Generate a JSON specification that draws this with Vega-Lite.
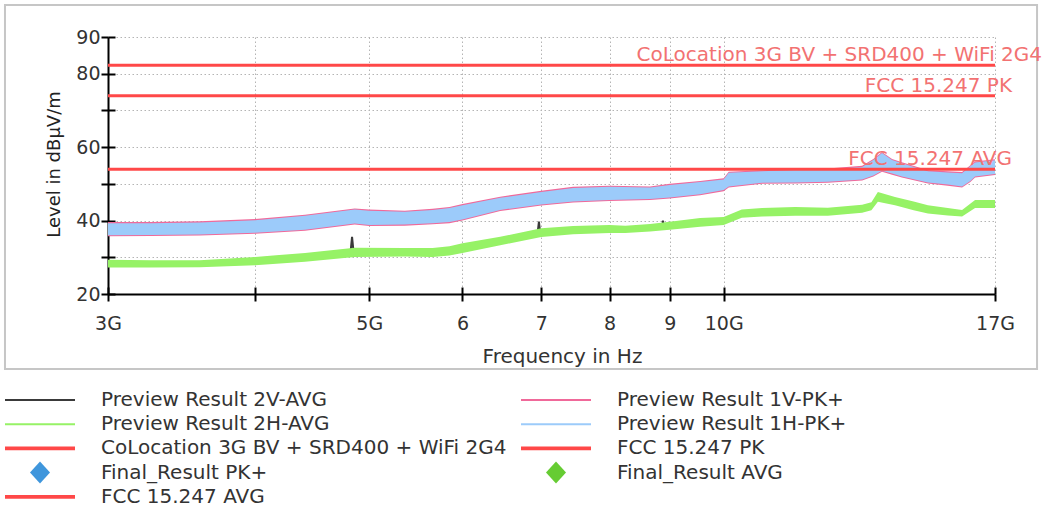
{
  "$schema": "https://vega.github.io/schema/vega-lite/v6.json",
  "width": 887,
  "height": 257,
  "autosize": {"type": "none"},
  "padding": {"left": 108, "top": 37, "right": 50, "bottom": 219},
  "background": "white",
  "config": {
    "view": {"stroke": null},
    "font": "DejaVu Sans",
    "axis": {"labelFont": "DejaVu Sans", "titleFont": "DejaVu Sans"},
    "text": {"font": "DejaVu Sans"}
  },
  "resolve": {"axis": {"x": "independent", "y": "independent"}},
  "datasets": {
    "frame": [{"part": "frame"}],
    "limits": [
      {"series": "CoLocation 3G BV + SRD400 + WiFi 2G4", "level": 82.3},
      {"series": "FCC 15.247 PK", "level": 74},
      {"series": "FCC 15.247 AVG", "level": 54}
    ],
    "pk1v": [
      {"f": 3.0, "lo": 35.7, "hi": 39.6}, {"f": 3.26, "lo": 35.8, "hi": 39.6}, {"f": 3.59, "lo": 35.9, "hi": 39.8},
      {"f": 4.0, "lo": 36.4, "hi": 40.4}, {"f": 4.41, "lo": 37.2, "hi": 41.6}, {"f": 4.86, "lo": 38.9, "hi": 43.3},
      {"f": 5.0, "lo": 38.5, "hi": 43.0}, {"f": 5.36, "lo": 38.6, "hi": 42.7}, {"f": 5.66, "lo": 39.0, "hi": 43.2},
      {"f": 5.85, "lo": 39.3, "hi": 43.7}, {"f": 6.0, "lo": 40.0, "hi": 44.5}, {"f": 6.46, "lo": 42.6, "hi": 46.5},
      {"f": 7.0, "lo": 44.1, "hi": 48.1}, {"f": 7.45, "lo": 44.9, "hi": 49.2}, {"f": 8.0, "lo": 45.3, "hi": 49.5},
      {"f": 8.66, "lo": 45.6, "hi": 49.3}, {"f": 9.0, "lo": 46.0, "hi": 50.0}, {"f": 9.55, "lo": 46.9, "hi": 50.8},
      {"f": 10.0, "lo": 48.0, "hi": 51.5}, {"f": 10.1, "lo": 49.0, "hi": 53.3}, {"f": 10.78, "lo": 50.0, "hi": 53.7},
      {"f": 11.5, "lo": 50.1, "hi": 54.1}, {"f": 12.26, "lo": 50.3, "hi": 54.2}, {"f": 13.11, "lo": 50.9, "hi": 54.9},
      {"f": 13.4, "lo": 52.0, "hi": 56.8}, {"f": 13.63, "lo": 53.3, "hi": 58.7}, {"f": 13.9, "lo": 52.5, "hi": 56.8},
      {"f": 14.17, "lo": 51.7, "hi": 55.9}, {"f": 14.91, "lo": 50.1, "hi": 53.7}, {"f": 15.5, "lo": 49.5, "hi": 53.4},
      {"f": 15.94, "lo": 49.0, "hi": 53.2}, {"f": 16.2, "lo": 50.5, "hi": 55.1}, {"f": 16.35, "lo": 51.7, "hi": 56.1},
      {"f": 17.0, "lo": 52.4, "hi": 56.7}
    ],
    "pk1h": [
      {"f": 3.0, "lo": 36.0, "hi": 39.3}, {"f": 3.26, "lo": 36.1, "hi": 39.3}, {"f": 3.59, "lo": 36.2, "hi": 39.5},
      {"f": 4.0, "lo": 36.7, "hi": 40.1}, {"f": 4.41, "lo": 37.5, "hi": 41.3}, {"f": 4.86, "lo": 39.2, "hi": 43.0},
      {"f": 5.0, "lo": 38.8, "hi": 42.7}, {"f": 5.36, "lo": 38.9, "hi": 42.4}, {"f": 5.66, "lo": 39.3, "hi": 42.9},
      {"f": 5.85, "lo": 39.6, "hi": 43.4}, {"f": 6.0, "lo": 40.3, "hi": 44.2}, {"f": 6.46, "lo": 42.9, "hi": 46.2},
      {"f": 7.0, "lo": 44.4, "hi": 47.8}, {"f": 7.45, "lo": 45.2, "hi": 48.9}, {"f": 8.0, "lo": 45.6, "hi": 49.2},
      {"f": 8.66, "lo": 45.9, "hi": 49.0}, {"f": 9.0, "lo": 46.3, "hi": 49.7}, {"f": 9.55, "lo": 47.2, "hi": 50.5},
      {"f": 10.0, "lo": 48.3, "hi": 51.2}, {"f": 10.1, "lo": 49.3, "hi": 53.0}, {"f": 10.78, "lo": 50.3, "hi": 53.4},
      {"f": 11.5, "lo": 50.4, "hi": 53.8}, {"f": 12.26, "lo": 50.6, "hi": 53.9}, {"f": 13.11, "lo": 51.2, "hi": 54.6},
      {"f": 13.4, "lo": 52.3, "hi": 56.5}, {"f": 13.63, "lo": 53.6, "hi": 58.4}, {"f": 13.9, "lo": 52.8, "hi": 56.5},
      {"f": 14.17, "lo": 52.0, "hi": 55.6}, {"f": 14.91, "lo": 50.4, "hi": 53.4}, {"f": 15.5, "lo": 49.8, "hi": 53.1},
      {"f": 15.94, "lo": 49.3, "hi": 52.9}, {"f": 16.2, "lo": 50.8, "hi": 54.8}, {"f": 16.35, "lo": 52.0, "hi": 55.8},
      {"f": 17.0, "lo": 52.7, "hi": 56.4}
    ],
    "avg2v": [
      {"f": 3.0, "level": 28.2}, {"f": 3.26, "level": 28.0}, {"f": 3.59, "level": 28.1}, {"f": 4.0, "level": 28.8},
      {"f": 4.41, "level": 29.8}, {"f": 4.82, "level": 31.2}, {"f": 4.835, "level": 35.6}, {"f": 4.85, "level": 31.2},
      {"f": 5.36, "level": 31.3}, {"f": 5.66, "level": 31.2}, {"f": 6.0, "level": 32.4}, {"f": 6.46, "level": 34.4},
      {"f": 6.95, "level": 36.6}, {"f": 6.968, "level": 39.7}, {"f": 6.985, "level": 36.7}, {"f": 7.45, "level": 37.3},
      {"f": 8.0, "level": 37.6}, {"f": 8.66, "level": 38.0}, {"f": 8.87, "level": 38.3}, {"f": 8.88, "level": 40.0},
      {"f": 8.89, "level": 38.4}, {"f": 9.55, "level": 39.4}, {"f": 10.0, "level": 39.8}, {"f": 10.36, "level": 41.8},
      {"f": 10.78, "level": 42.2}, {"f": 11.5, "level": 42.4}, {"f": 12.26, "level": 42.3}, {"f": 13.11, "level": 43.1},
      {"f": 13.35, "level": 43.8}, {"f": 13.52, "level": 46.4}, {"f": 13.98, "level": 45.2}, {"f": 14.5, "level": 43.9},
      {"f": 14.91, "level": 42.9}, {"f": 15.5, "level": 42.3}, {"f": 15.94, "level": 41.9}, {"f": 16.35, "level": 44.4},
      {"f": 17.0, "level": 44.4}
    ],
    "avg2h": [
      {"f": 3.0, "lo": 27.2, "hi": 29.3}, {"f": 3.26, "lo": 27.2, "hi": 29.2}, {"f": 3.59, "lo": 27.3, "hi": 29.2},
      {"f": 4.0, "lo": 27.8, "hi": 30.1}, {"f": 4.41, "lo": 28.8, "hi": 31.2}, {"f": 4.86, "lo": 30.1, "hi": 32.6},
      {"f": 5.36, "lo": 30.2, "hi": 32.5}, {"f": 5.66, "lo": 30.1, "hi": 32.5}, {"f": 5.85, "lo": 30.5, "hi": 33.0},
      {"f": 6.0, "lo": 31.2, "hi": 33.8}, {"f": 6.46, "lo": 33.3, "hi": 35.6}, {"f": 7.0, "lo": 35.5, "hi": 37.9},
      {"f": 7.45, "lo": 36.3, "hi": 38.5}, {"f": 8.0, "lo": 36.6, "hi": 38.8}, {"f": 8.25, "lo": 36.6, "hi": 38.6},
      {"f": 8.66, "lo": 37.0, "hi": 39.1}, {"f": 9.0, "lo": 37.5, "hi": 39.7}, {"f": 9.55, "lo": 38.3, "hi": 40.7},
      {"f": 10.0, "lo": 38.8, "hi": 41.0}, {"f": 10.36, "lo": 40.8, "hi": 43.0}, {"f": 10.78, "lo": 41.1, "hi": 43.4},
      {"f": 11.5, "lo": 41.3, "hi": 43.7}, {"f": 12.26, "lo": 41.3, "hi": 43.5}, {"f": 13.11, "lo": 42.1, "hi": 44.3},
      {"f": 13.35, "lo": 42.8, "hi": 45.0}, {"f": 13.52, "lo": 45.1, "hi": 47.8}, {"f": 13.98, "lo": 44.2, "hi": 46.4},
      {"f": 14.5, "lo": 42.8, "hi": 45.2}, {"f": 14.91, "lo": 41.9, "hi": 44.2}, {"f": 15.5, "lo": 41.4, "hi": 43.4},
      {"f": 15.94, "lo": 41.1, "hi": 42.9}, {"f": 16.35, "lo": 43.4, "hi": 45.6}, {"f": 17.0, "lo": 43.4, "hi": 45.6}
    ],
    "finals": []
  },
  "layer": [
    {
      "data": {"name": "frame"},
      "mark": {"type": "rect", "fill": null, "fillOpacity": 0, "stroke": "#c6c6c6", "strokeWidth": 2, "clip": false},
      "encoding": {
        "x": {"datum": 2.4526, "type": "quantitative", "scale": {"type": "log", "domain": [3, 17], "nice": false}, "axis": null},
        "x2": {"datum": 18.457},
        "y": {"datum": 98.7, "type": "quantitative", "scale": {"domain": [20, 90], "nice": false, "zero": false}, "axis": null},
        "y2": {"datum": -0.43}
      }
    },
    {
      "data": {"name": "pk1v"},
      "transform": [{"calculate": "'Preview Result 1V-PK+'", "as": "series"}],
      "mark": {"type": "area", "opacity": 1},
      "encoding": {
        "x": {"field": "f", "type": "quantitative", "scale": {"type": "log", "domain": [3, 17], "nice": false},
          "axis": {
            "orient": "bottom", "values": [3, 4, 5, 6, 7, 8, 9, 10, 17],
            "labelExpr": "datum.value == 3 ? '3G' : datum.value == 4 ? '' : datum.value == 5 ? '5G' : datum.value == 10 ? '10G' : datum.value == 17 ? '17G' : format(datum.value, 'd')",
            "title": "Frequency in Hz", "titleFontSize": 20, "titleFontWeight": "normal", "titleColor": "#333",
            "titleX": 454, "titleY": 68, "titleBaseline": "alphabetic", "titleAlign": "center",
            "labelFontSize": 19, "labelColor": "#333", "labelBaseline": "alphabetic", "labelPadding": 28,
            "labelFlush": false, "labelOverlap": false, "labelBound": false,
            "tickSize": 7, "tickWidth": 2, "tickColor": "#000",
            "domain": true, "domainColor": "#000", "domainWidth": 2,
            "grid": true, "gridColor": "#b4b4b4", "gridDash": [1.5, 2.5], "gridWidth": 1
          }
        },
        "y": {"field": "lo", "type": "quantitative", "scale": {"domain": [20, 90], "nice": false, "zero": false},
          "axis": {
            "orient": "left", "values": [20, 30, 40, 50, 60, 70, 80, 90],
            "labelExpr": "(datum.value == 30 || datum.value == 50 || datum.value == 70) ? '' : datum.label",
            "title": "Level in dBµV/m", "titleFontSize": 18, "titleFontWeight": "normal", "titleColor": "#222",
            "titleX": -54, "titleY": 127, "titleAngle": -90, "titleBaseline": "middle", "titleAlign": "center",
            "labelFontSize": 19, "labelColor": "#333", "labelPadding": 1, "labelFlush": false, "labelOverlap": false,
            "tickSize": 7, "tickWidth": 2, "tickColor": "#000",
            "domain": true, "domainColor": "#000", "domainWidth": 2,
            "grid": true, "gridColor": "#b4b4b4", "gridDash": [1.5, 2.5], "gridWidth": 1
          }
        },
        "y2": {"field": "hi"},
        "color": {
          "field": "series", "type": "nominal",
          "scale": {
            "domain": ["Preview Result 2V-AVG", "Preview Result 2H-AVG", "CoLocation 3G BV + SRD400 + WiFi 2G4", "Final_Result PK+", "FCC 15.247 AVG", "Preview Result 1V-PK+", "Preview Result 1H-PK+", "FCC 15.247 PK", "Final_Result AVG"],
            "range": ["#3a3a3a", "#96f266", "#ff4848", "#3f96dc", "#ff4848", "#f0699a", "#9ccbfa", "#ff4848", "#66cc33"]
          },
          "legend": {
            "orient": "none", "legendX": -103, "legendY": 351, "direction": "vertical", "columns": 2,
            "columnPadding": 14, "rowPadding": 0.2, "clipHeight": 24, "title": null, "padding": 0,
            "symbolSize": 4900, "symbolStrokeWidth": 0, "symbolOffset": 0, "symbolOpacity": 1, "labelOffset": 26,
            "labelFont": "DejaVu Sans", "labelFontSize": 20, "labelColor": "#333", "labelLimit": 1000
          }
        }
      }
    },
    {
      "data": {"name": "pk1h"},
      "transform": [{"calculate": "'Preview Result 1H-PK+'", "as": "series"}],
      "mark": {"type": "area", "opacity": 1},
      "encoding": {
        "x": {"field": "f", "type": "quantitative",
          "axis": {"orient": "bottom", "values": [3, 4, 5, 6, 7, 8, 9, 10, 17], "labels": false, "domain": false, "grid": false, "title": null, "tickSize": -7, "tickWidth": 2, "tickColor": "#000"}
        },
        "y": {"field": "lo", "type": "quantitative",
          "axis": {"orient": "left", "values": [20, 30, 40, 50, 60, 70, 80, 90], "labels": false, "domain": false, "grid": false, "title": null, "tickSize": -7, "tickWidth": 2, "tickColor": "#000"}
        },
        "y2": {"field": "hi"},
        "color": {"field": "series", "type": "nominal"}
      }
    },
    {
      "data": {"name": "avg2v"},
      "transform": [{"calculate": "'Preview Result 2V-AVG'", "as": "series"}],
      "mark": {"type": "line", "strokeWidth": 2},
      "encoding": {
        "x": {"field": "f", "type": "quantitative", "axis": null},
        "y": {"field": "level", "type": "quantitative", "axis": null},
        "color": {"field": "series", "type": "nominal"}
      }
    },
    {
      "data": {"name": "avg2h"},
      "transform": [{"calculate": "'Preview Result 2H-AVG'", "as": "series"}],
      "mark": {"type": "area", "opacity": 1},
      "encoding": {
        "x": {"field": "f", "type": "quantitative", "axis": null},
        "y": {"field": "lo", "type": "quantitative", "axis": null},
        "y2": {"field": "hi"},
        "color": {"field": "series", "type": "nominal"}
      }
    },
    {
      "data": {"name": "limits"},
      "mark": {"type": "rule", "strokeWidth": 3},
      "encoding": {
        "y": {"field": "level", "type": "quantitative", "axis": null},
        "color": {"field": "series", "type": "nominal"}
      }
    },
    {
      "data": {"name": "finals"},
      "mark": {"type": "point", "filled": true, "opacity": 1},
      "encoding": {
        "x": {"field": "f", "type": "quantitative", "axis": null},
        "y": {"field": "level", "type": "quantitative", "axis": null},
        "color": {"field": "series", "type": "nominal"},
        "shape": {
          "field": "series", "type": "nominal",
          "scale": {
            "domain": ["Preview Result 2V-AVG", "Preview Result 2H-AVG", "CoLocation 3G BV + SRD400 + WiFi 2G4", "Final_Result PK+", "FCC 15.247 AVG", "Preview Result 1V-PK+", "Preview Result 1H-PK+", "FCC 15.247 PK", "Final_Result AVG"],
            "range": [
              "M-1,-0.027L1,-0.027L1,0.027L-1,0.027Z",
              "M-1,-0.03L1,-0.03L1,0.03L-1,0.03Z",
              "M-1,-0.053L1,-0.053L1,0.053L-1,0.053Z",
              "M0,-0.314L0.286,0L0,0.314L-0.286,0Z",
              "M-1,-0.053L1,-0.053L1,0.053L-1,0.053Z",
              "M-1,-0.03L1,-0.03L1,0.03L-1,0.03Z",
              "M-1,-0.03L1,-0.03L1,0.03L-1,0.03Z",
              "M-1,-0.053L1,-0.053L1,0.053L-1,0.053Z",
              "M0,-0.314L0.286,0L0,0.314L-0.286,0Z"
            ]
          }
        }
      }
    },
    {
      "data": {"name": "limits"},
      "transform": [{"filter": "datum.series != 'CoLocation 3G BV + SRD400 + WiFi 2G4'"}],
      "mark": {"type": "text", "align": "right", "baseline": "alphabetic", "dx": 17, "dy": -4, "fontSize": 20, "font": "DejaVu Sans", "color": "#f27272"},
      "encoding": {
        "x": {"datum": 17, "type": "quantitative", "axis": null},
        "y": {"field": "level", "type": "quantitative", "axis": null},
        "text": {"field": "series"}
      }
    },
    {
      "data": {"name": "limits"},
      "transform": [{"filter": "datum.series == 'CoLocation 3G BV + SRD400 + WiFi 2G4'"}],
      "mark": {"type": "text", "align": "right", "baseline": "alphabetic", "dx": 47, "dy": -4, "fontSize": 20, "font": "DejaVu Sans", "color": "#f27272"},
      "encoding": {
        "x": {"datum": 17, "type": "quantitative", "axis": null},
        "y": {"field": "level", "type": "quantitative", "axis": null},
        "text": {"field": "series"}
      }
    }
  ]
}
